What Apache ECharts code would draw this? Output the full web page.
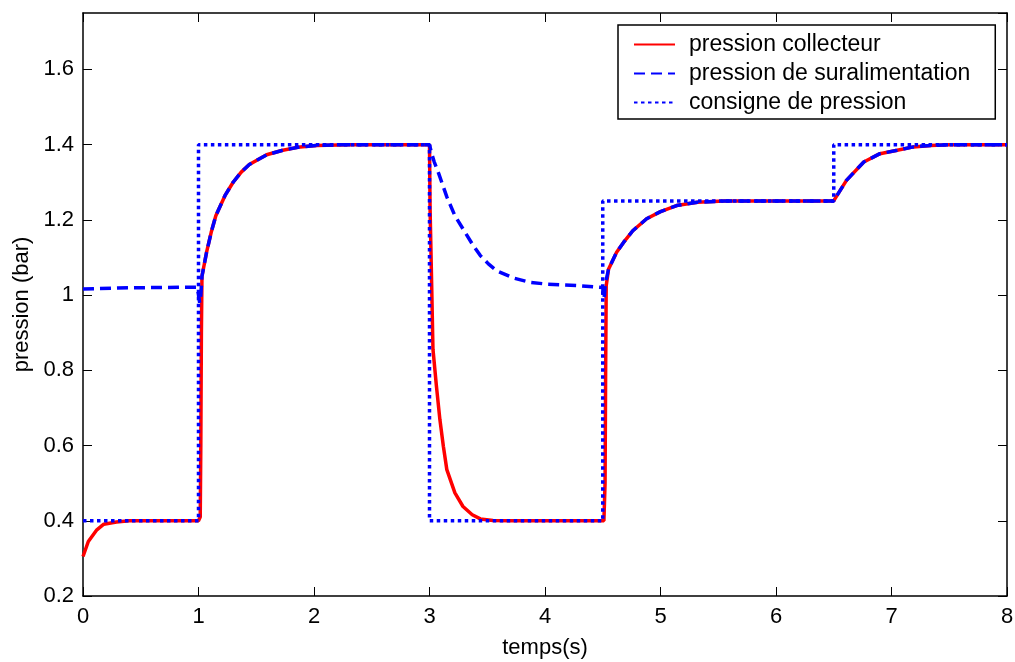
<!DOCTYPE html>
<html>
<head>
<meta charset="utf-8">
<script src="https://cdn.jsdelivr.net/npm/echarts@6/dist/echarts.min.js"></script>
<style>
html,body{margin:0;padding:0;background:#fff;}
#chart{width:1015px;height:662px;}
</style>
</head>
<body>
<div id="chart"></div>
<script>
// ---- data ----
const seriesNames = ['pression collecteur', 'pression de suralimentation', 'consigne de pression'];

const collecteurT = [0, 0.046, 0.12, 0.18, 0.29, 0.4, 1.0, 1.015, 1.02, 1.025, 1.03, 1.07, 1.11, 1.15, 1.23, 1.30, 1.37, 1.44, 1.59, 1.73, 1.88, 2.02, 2.3, 3.0, 3.005, 3.02, 3.03, 3.06, 3.09, 3.12, 3.15, 3.22, 3.29, 3.37, 3.44, 3.55, 3.7, 4.51, 4.52, 4.525, 4.53, 4.55, 4.62, 4.68, 4.76, 4.88, 5.0, 5.14, 5.32, 5.55, 6.0, 6.5, 6.51, 6.61, 6.76, 6.9, 7.05, 7.19, 7.34, 7.5, 8.0];
const collecteurV = [0.305, 0.345, 0.376, 0.391, 0.397, 0.4, 0.4, 0.41, 0.6, 0.9, 1.05, 1.114, 1.167, 1.211, 1.265, 1.30, 1.327, 1.347, 1.373, 1.385, 1.394, 1.398, 1.4, 1.4, 1.23, 1.008, 0.856, 0.758, 0.669, 0.598, 0.536, 0.474, 0.438, 0.416, 0.405, 0.401, 0.4, 0.4, 0.5, 0.8, 1.025, 1.069, 1.114, 1.14, 1.171, 1.203, 1.222, 1.238, 1.247, 1.25, 1.25, 1.25, 1.256, 1.305, 1.354, 1.376, 1.385, 1.394, 1.398, 1.4, 1.4];

const suralimT = [0, 0.3, 0.6, 0.99, 1.0, 1.01, 1.02, 1.03, 1.07, 1.11, 1.15, 1.23, 1.30, 1.37, 1.44, 1.59, 1.73, 1.88, 2.02, 2.3, 3.0, 3.02, 3.04, 3.08, 3.15, 3.22, 3.29, 3.37, 3.44, 3.51, 3.58, 3.73, 3.87, 4.02, 4.3, 4.5, 4.505, 4.515, 4.52, 4.55, 4.62, 4.68, 4.76, 4.88, 5.0, 5.14, 5.32, 5.55, 6.0, 6.5, 6.51, 6.61, 6.76, 6.9, 7.05, 7.19, 7.34, 7.5, 8.0];
const suralimV = [1.016, 1.019, 1.02, 1.021, 1.0, 0.98, 1.0, 1.05, 1.114, 1.167, 1.211, 1.265, 1.30, 1.327, 1.347, 1.373, 1.385, 1.394, 1.398, 1.4, 1.4, 1.375, 1.355, 1.323, 1.261, 1.211, 1.176, 1.136, 1.105, 1.083, 1.065, 1.045, 1.034, 1.029, 1.025, 1.02, 0.99, 1.0, 1.025, 1.069, 1.114, 1.14, 1.171, 1.203, 1.222, 1.238, 1.247, 1.25, 1.25, 1.25, 1.256, 1.305, 1.354, 1.376, 1.385, 1.394, 1.398, 1.4, 1.4];

const consigneT = [0, 1, 1, 3, 3, 4.5, 4.5, 6.5, 6.5, 8];
const consigneV = [0.4, 0.4, 1.4, 1.4, 0.4, 0.4, 1.25, 1.25, 1.4, 1.4];

const xTicks = {min: 0, max: 8, interval: 1};
const yTicks = {min: 0.2, max: 1.75, interval: 0.2};

function pairs(t, v) { return t.map((x, i) => [x, v[i]]); }

const FONT = '"Liberation Sans", Arial, sans-serif';
const chart = echarts.init(document.getElementById('chart'), null, {renderer: 'canvas'});

const axisCommon = {
  axisLine: {show: true, onZero: false, lineStyle: {color: '#000', width: 1.5}},
  axisTick: {show: true, inside: true, length: 9, lineStyle: {color: '#000', width: 1}},
  splitLine: {show: false}
};

const option = {
  backgroundColor: '#fff',
  animation: false,
  grid: {left: 83, right: 8, top: 13, bottom: 66, containLabel: false, outerBoundsMode: 'none'},
  legend: {
    data: seriesNames,
    orient: 'vertical',
    left: 618,
    top: 25,
    padding: [8, 25, 5, 15],
    itemGap: 6,
    itemWidth: 41,
    itemHeight: 14,
    itemStyle: {opacity: 0, borderWidth: 0},
    backgroundColor: '#fff',
    borderColor: '#000',
    borderWidth: 1.5,
    borderRadius: 0,
    textStyle: {fontFamily: FONT, fontSize: 23, color: '#000', lineHeight: 22, padding: [0, 0, 0, 9]}
  },
  xAxis: [
    Object.assign({}, axisCommon, {
      type: 'value', position: 'bottom',
      min: xTicks.min, max: xTicks.max, interval: xTicks.interval,
      name: 'temps(s)', nameLocation: 'middle', nameGap: 41,
      nameTextStyle: {fontFamily: FONT, fontSize: 22, color: '#000'},
      axisLabel: {fontFamily: FONT, fontSize: 22, color: '#000', margin: 10}
    }),
    Object.assign({}, axisCommon, {
      type: 'value', position: 'top',
      min: xTicks.min, max: xTicks.max, interval: xTicks.interval,
      axisLabel: {show: false}
    })
  ],
  yAxis: [
    Object.assign({}, axisCommon, {
      type: 'value', position: 'left',
      min: yTicks.min, max: yTicks.max, interval: yTicks.interval,
      name: 'pression (bar)', nameLocation: 'middle', nameGap: 50,
      nameTextStyle: {fontFamily: FONT, fontSize: 22, color: '#000'},
      axisLabel: {fontFamily: FONT, fontSize: 22, color: '#000', margin: 9, showMaxLabel: false}
    }),
    Object.assign({}, axisCommon, {
      type: 'value', position: 'right',
      min: yTicks.min, max: yTicks.max, interval: yTicks.interval,
      axisLabel: {show: false}
    })
  ],
  series: [
    {
      name: seriesNames[0], type: 'line', xAxisIndex: 0, yAxisIndex: 0,
      data: pairs(collecteurT, collecteurV),
      showSymbol: false, symbol: 'none',
      lineStyle: {color: '#ff0000', width: 3.5, type: 'solid'},
      itemStyle: {color: '#ff0000'},
      z: 2
    },
    {
      name: seriesNames[1], type: 'line', xAxisIndex: 0, yAxisIndex: 0,
      data: pairs(suralimT, suralimV),
      showSymbol: false, symbol: 'none',
      lineStyle: {color: '#0000ff', width: 3.5, type: [11, 6]},
      itemStyle: {color: '#0000ff'},
      z: 3
    },
    {
      name: seriesNames[2], type: 'line', xAxisIndex: 0, yAxisIndex: 0,
      data: pairs(consigneT, consigneV),
      showSymbol: false, symbol: 'none',
      lineStyle: {color: '#0000ff', width: 3.5, type: [3.5, 3.5]},
      itemStyle: {color: '#0000ff'},
      z: 4
    }
  ]
};
chart.setOption(option);
</script>
</body>
</html>
